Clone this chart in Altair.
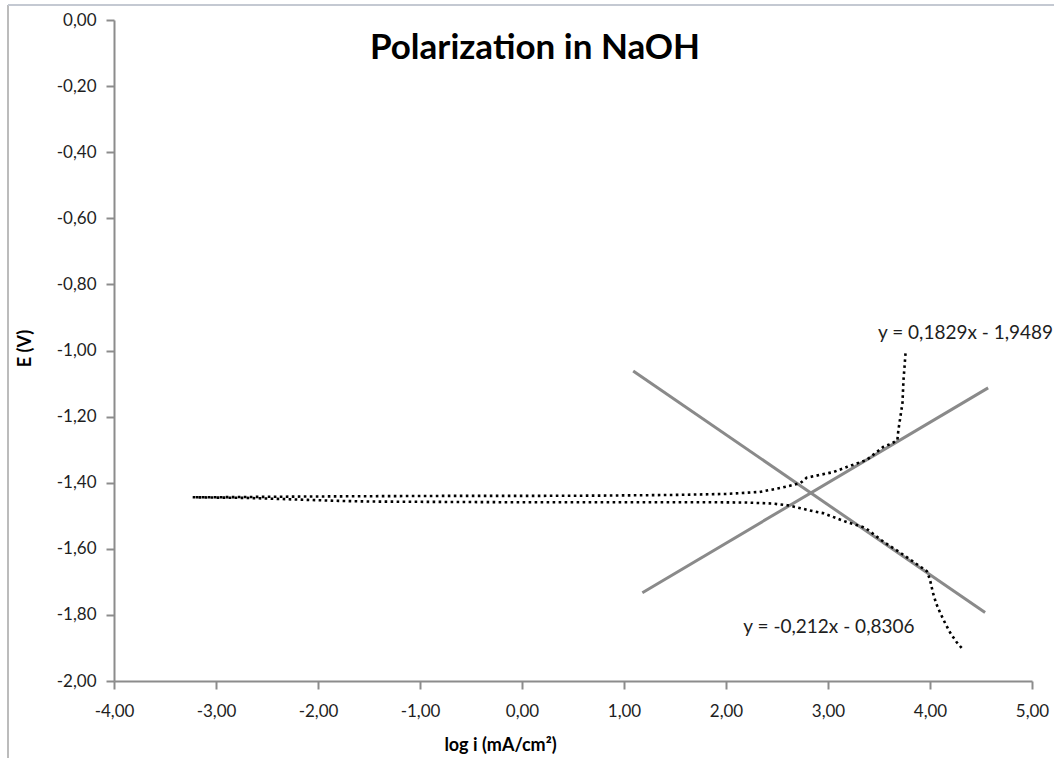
import altair as alt
import pandas as pd

# ---------------- data ----------------
x_ticks = [-4, -3, -2, -1, 0, 1, 2, 3, 4, 5]
y_ticks = [0, -0.2, -0.4, -0.6, -0.8, -1.0, -1.2, -1.4, -1.6, -1.8, -2.0]

# cathodic branch (from most negative potential towards Ecorr)
cath_x = [4.31, 4.26, 4.20, 4.15, 4.10, 4.06, 4.03, 4.00, 3.97, 3.85, 3.71, 3.55,
          3.38, 3.34, 3.19, 2.95, 2.85, 2.73, 2.60, 2.45, 2.20, 1.80, 1.20, 0.50,
          -0.20, -0.90, -1.50, -1.80, -2.10, -2.40, -2.70, -3.00, -3.23]
cath_y = [-1.900, -1.882, -1.855, -1.826, -1.794, -1.765, -1.734, -1.694, -1.668,
          -1.642, -1.612, -1.580, -1.540, -1.534, -1.520, -1.492, -1.486, -1.477,
          -1.468, -1.463, -1.460, -1.459, -1.459, -1.459, -1.459, -1.458, -1.457,
          -1.455, -1.452, -1.449, -1.446, -1.445, -1.444]

# anodic branch (from Ecorr towards most positive potential)
an_x = [-3.23, -3.00, -2.60, -2.20, -1.60, -0.80, 0.00, 0.80, 1.50, 2.00, 2.33,
        2.55, 2.73, 2.79, 3.05, 3.19, 3.38, 3.54, 3.62, 3.68, 3.69, 3.71, 3.73,
        3.74, 3.75, 3.76]
an_y = [-1.444, -1.444, -1.443, -1.442, -1.441, -1.440, -1.440, -1.439, -1.437,
        -1.434, -1.428, -1.415, -1.401, -1.385, -1.368, -1.352, -1.331, -1.292,
        -1.282, -1.271, -1.241, -1.200, -1.159, -1.089, -1.050, -1.008]

# Tafel trend lines (end points)
trend_name = ["anodic", "anodic", "cathodic", "cathodic"]
trend_x = [1.18, 4.57, 1.09, 4.54]
trend_y = [-1.733, -1.113, -1.062, -1.793]

# trend line equations
eq_text = ["y = 0,1829x - 1,9489", "y = -0,212x - 0,8306"]
eq_x = [3.49, 2.17]
eq_y = [-0.947, -1.837]

title_text = "Polarization in NaOH"

# ---------------- chart ----------------
curve = pd.DataFrame({
    "x": cath_x + an_x,
    "y": cath_y + an_y,
    "i": list(range(len(cath_x) + len(an_x))),
})
trend = pd.DataFrame({"name": trend_name, "x": trend_x, "y": trend_y})
eqs = pd.DataFrame({"t": eq_text, "x": eq_x, "y": eq_y})

W, H = 918, 661
FONT = "Lato"
AX_COL = "#8c8c8c"
LBL_COL = "#1e1e1e"
fmt = "replace(replace(format(datum.value, '.2f'), '.', ','), '\u2212', '-')"

xscale = alt.Scale(domain=[-4, 5], nice=False, zero=False)
yscale = alt.Scale(domain=[-2, 0], nice=False, zero=False)

xaxis = alt.Axis(values=x_ticks, labelExpr=fmt, grid=False, domainColor=AX_COL,
                 domainWidth=2, tickColor=AX_COL, tickWidth=2, tickSize=8,
                 labelFont=FONT, labelFontSize=17, labelColor=LBL_COL,
                 labelPadding=14, labelFlush=False, labelOverlap=False,
                 title="log i (mA/cm²)", titleFont=FONT, titleFontSize=18,
                 titleFontWeight="bold", titleColor="#000000",
                 titleX=386, titleY=64, titleBaseline="middle", titleAlign="center")
yaxis = alt.Axis(values=y_ticks, labelExpr=fmt, grid=False, domainColor=AX_COL,
                 domainWidth=2, tickColor=AX_COL, tickWidth=2, tickSize=8,
                 labelFont=FONT, labelFontSize=17, labelColor=LBL_COL,
                 labelPadding=10, labelFlush=False, labelOverlap=False,
                 title="E (V)", titleFont=FONT, titleFontSize=18,
                 titleFontWeight="bold", titleColor="#000000",
                 titleX=-89, titleY=328, titleBaseline="middle", titleAlign="center")

base_x = alt.X("x:Q", scale=xscale, axis=xaxis)
base_y = alt.Y("y:Q", scale=yscale, axis=yaxis)

trend_layer = alt.Chart(trend).mark_line(color="#8a8a8a", strokeWidth=3).encode(
    x=base_x, y=base_y, detail="name:N")

curve_layer = alt.Chart(curve).mark_line(
    color="#000000", strokeWidth=2.6, strokeDash=[2.6, 3.4], strokeCap="butt"
).encode(x=alt.X("x:Q", scale=xscale), y=alt.Y("y:Q", scale=yscale), order="i:Q")

eq_layer = alt.Chart(eqs).mark_text(
    align="left", baseline="middle", font=FONT, fontSize=19, color="#1e1e1e"
).encode(x=alt.X("x:Q", scale=xscale), y=alt.Y("y:Q", scale=yscale), text="t:N")

title_layer = alt.Chart(pd.DataFrame({"t": [title_text]})).mark_text(
    align="center", baseline="middle", font=FONT, fontSize=35, fontWeight="bold",
    color="#000000"
).encode(x=alt.value(421), y=alt.value(28), text="t:N")

border_left = alt.Chart(pd.DataFrame({"a": [0]})).mark_rule(
    color="#a6a6a6", strokeWidth=1.5
).encode(x=alt.value(-106), y=alt.value(-15), y2=alt.value(760))
border_top = alt.Chart(pd.DataFrame({"a": [0]})).mark_rule(
    color="#c4c9d2", strokeWidth=2
).encode(x=alt.value(-106), x2=alt.value(960), y=alt.value(-15))

chart = alt.layer(
    border_left, border_top, trend_layer, curve_layer, eq_layer, title_layer
).properties(
    width=W, height=H,
    autosize=alt.AutoSizeParams(type="none"),
    padding={"left": 114, "top": 20, "right": 22, "bottom": 77},
    background="white",
).configure_view(stroke=None)

chart.save("out.html", embed_options={"renderer": "svg", "actions": False})
